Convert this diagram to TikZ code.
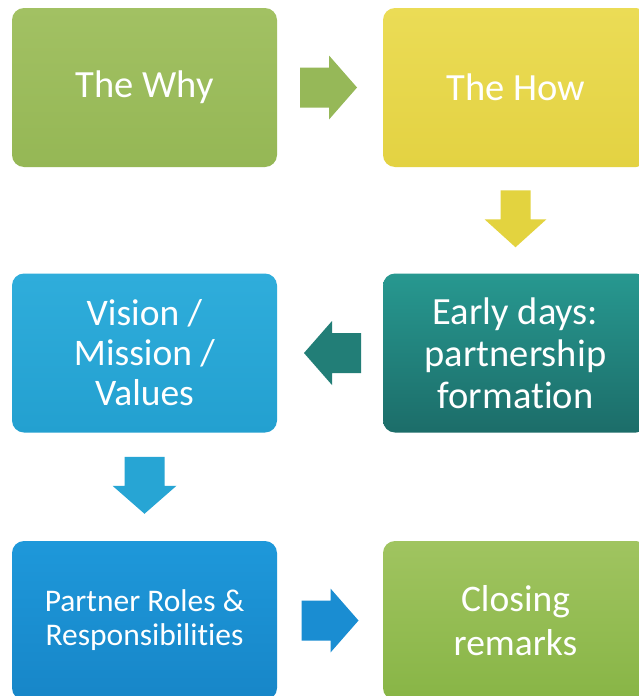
\documentclass[tikz,border=0pt]{standalone}
\usepackage{fontspec}
\setmainfont{Carlito}[RawFeature={-liga;-clig;-dlig;-calt}]
\usetikzlibrary{calc}
\definecolor{whyT}{HTML}{A2C163}
\definecolor{whyB}{HTML}{95B755}
\definecolor{howT}{HTML}{EBDC56}
\definecolor{howB}{HTML}{E3D242}
\definecolor{visT}{HTML}{2FADDB}
\definecolor{visB}{HTML}{23A0D0}
\definecolor{earT}{HTML}{279890}
\definecolor{earB}{HTML}{1C6D69}
\definecolor{parT}{HTML}{1E98DA}
\definecolor{parB}{HTML}{1786C8}
\definecolor{cloT}{HTML}{A0C460}
\definecolor{cloB}{HTML}{88B546}
\definecolor{arGreen}{HTML}{96B858}
\definecolor{arYellow}{HTML}{E3D33F}
\definecolor{arTeal}{HTML}{227E77}
\definecolor{arCyan}{HTML}{27A5D4}
\definecolor{arBlue}{HTML}{1A8DD2}
\tikzset{
  box/.style={rounded corners=12pt, minimum width=265pt, minimum height=159pt,
    inner sep=4pt, align=center, text=white},
  bigtext/.style={font=\fontsize{38.5}{41}\selectfont},
  pics/blockarrow/.style={code={
    \fill[#1] (-28.5,-20) -- (0.5,-20) -- (0.5,-32) -- (28.5,0) -- (0.5,32)
      -- (0.5,20) -- (-28.5,20) -- cycle;}},
  pics/narrowarrow/.style={code={
    \fill[#1] (-28.5,-15) -- (0.5,-15) -- (0.5,-31) -- (28.5,0) -- (0.5,31)
      -- (0.5,15) -- (-28.5,15) -- cycle;}}
}
\begin{document}
\begin{tikzpicture}[x=1pt,y=-1pt]
\useasboundingbox (0,0) rectangle (639,696);
\clip (0,0) rectangle (639,696);
\fill[white] (0,0) rectangle (639,696);

\node[box, bigtext, top color=whyT, bottom color=whyB] (why) at (144.5,87.5) {The Why};
\node[box, bigtext, top color=howT, bottom color=howB] (how) at (515.5,87.5) {The How};
\node[box, font=\fontsize{37.5}{40}\selectfont, top color=visT, bottom color=visB] (vision) at (144.5,353) {Vision /\\Mission /\\Values};
\node[box, font=\fontsize{38.5}{42}\selectfont, top color=earT, bottom color=earB] (early) at (515.5,353) {Early days:\\partnership\\formation};
\node[box, font=\fontsize{31.5}{34}\selectfont, top color=parT, bottom color=parB] (partner) at (144.5,620.5) {Partner Roles \&\\Responsibilities};
\node[box, font=\fontsize{37.5}{44}\selectfont, top color=cloT, bottom color=cloB] (closing) at (515.5,620.5) {Closing\\remarks};

\coordinate (a1) at ($(why.east)!0.5!(how.west)+(-1.5,0)$);
\coordinate (a2) at ($(how.south)!0.5!(early.north)+(0,-1.5)$);
\coordinate (a3) at ($(early.west)!0.5!(vision.east)+(2.5,0)$);
\coordinate (a4) at ($(vision.south)!0.5!(partner.north)+(0,-1.5)$);
\coordinate (a5) at ($(partner.east)!0.5!(closing.west)$);

\pic at (a1) {blockarrow=arGreen};
\pic[rotate=-90] at (a2) {narrowarrow=arYellow};
\pic[rotate=180] at (a3) {blockarrow=arTeal};
\pic[rotate=-90] at (a4) {blockarrow=arCyan};
\pic at (a5) {blockarrow=arBlue};
\end{tikzpicture}
\end{document}
